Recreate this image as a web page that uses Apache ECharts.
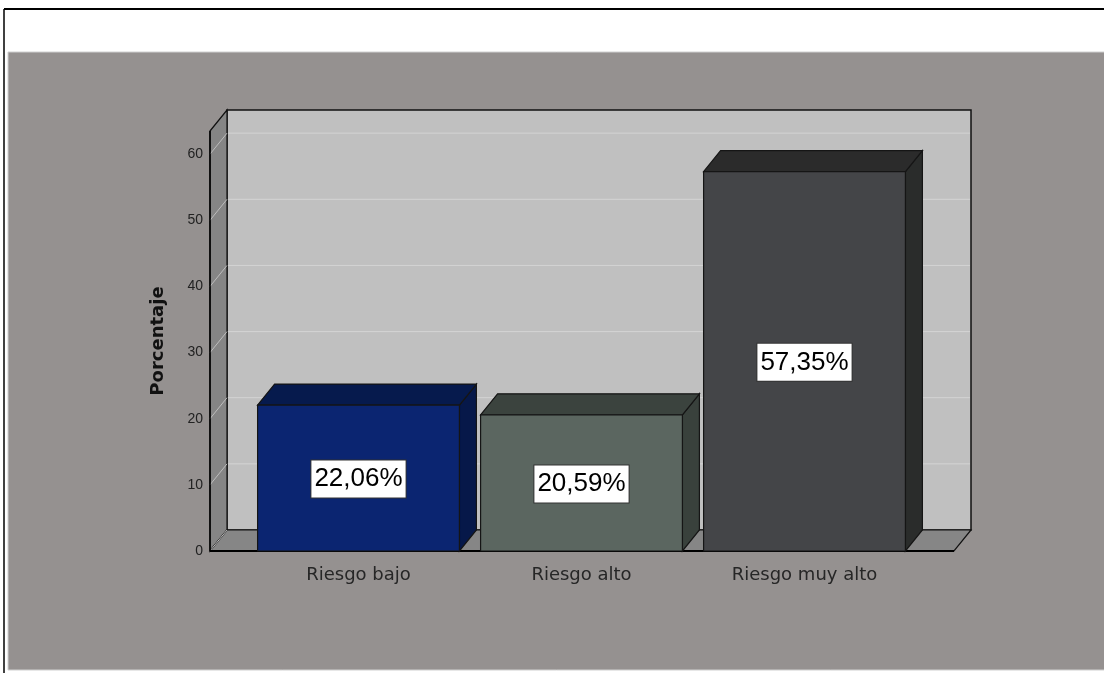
<!DOCTYPE html>
<html>
<head>
<meta charset="utf-8">
<script src="https://cdn.jsdelivr.net/npm/echarts@6/dist/echarts.min.js"></script>
<style>
html,body{margin:0;padding:0;background:#fff;}
#chart{width:1104px;height:673px;}
</style>
</head>
<body>
<div id="chart"></div>
<script>
// ---- data ----
const categories = ['Riesgo bajo', 'Riesgo alto', 'Riesgo muy alto'];
const percentages = [22.06, 20.59, 57.35];
const valueLabels = ['22,06%', '20,59%', '57,35%'];
const yTicks = [0, 10, 20, 30, 40, 50, 60];
const yAxisMax = 63.5;

// ---- styling ----
const DX = 17, DY = -21;          // 3D depth offset (px)
const PAD_L = 37, PAD_R = 38;      // floor extension beyond category bands (px)
const barColors = [
  { front: '#0b2571', top: '#061a4d', side: '#061849' },
  { front: '#5b6660', top: '#3b433e', side: '#39413c' },
  { front: '#444548', top: '#2b2b2b', side: '#2a2c2b' }
];

const chart = echarts.init(document.getElementById('chart'), null, { renderer: 'canvas' });

function renderWalls(params, api) {
  const cs = params.coordSys;
  const x0 = cs.x - PAD_L, x1 = cs.x + cs.width + PAD_R;
  const yb = api.coord([0, 0])[1];
  const yt = api.coord([0, yAxisMax])[1];
  const children = [];
  children.push({ type: 'rect', shape: { x: x0 + DX, y: yt + DY, width: x1 - x0, height: yb - yt },
    style: { fill: '#c0c0c0', stroke: '#111', lineWidth: 1.5 } });
  children.push({ type: 'polygon', shape: { points: [[x0, yt], [x0 + DX, yt + DY], [x0 + DX, yb + DY], [x0, yb]] },
    style: { fill: '#858585', stroke: '#111', lineWidth: 1.2 } });
  children.push({ type: 'polygon', shape: { points: [[x0, yb], [x0 + DX, yb + DY], [x1 + DX, yb + DY], [x1, yb]] },
    style: { fill: '#868686', stroke: '#111', lineWidth: 1.2 } });
  yTicks.forEach(function (t) {
    const y = api.coord([0, t])[1];
    if (t > 0) {
      children.push({ type: 'line', shape: { x1: x0 + DX + 1, y1: y + DY, x2: x1 + DX - 1, y2: y + DY },
        style: { stroke: '#d4d4d4', lineWidth: 1 } });
    }
    children.push({ type: 'line', shape: { x1: x0, y1: y, x2: x0 + DX, y2: y + DY },
      style: { stroke: '#bdbdbd', lineWidth: 1 } });
  });
  children.push({ type: 'line', shape: { x1: x0, y1: yt, x2: x0, y2: yb }, style: { stroke: '#000', lineWidth: 1.5 } });
  children.push({ type: 'line', shape: { x1: x0, y1: yb, x2: x1, y2: yb }, style: { stroke: '#000', lineWidth: 2 } });
  return { type: 'group', children: children };
}

function renderBar(params, api) {
  const c = api.value(0), v = api.value(1);
  const top = api.coord([c, v]);
  const base = api.coord([c, 0]);
  const w = api.size([1, 0])[0] * 0.905;
  const xl = top[0] - w / 2, xr = top[0] + w / 2;
  const yt = top[1], yb = base[1];
  const col = barColors[params.dataIndex];
  const edge = { stroke: '#151515', lineWidth: 1.2 };
  return {
    type: 'group',
    children: [
      { type: 'polygon', shape: { points: [[xr, yt], [xr + DX, yt + DY], [xr + DX, yb + DY], [xr, yb]] },
        style: Object.assign({ fill: col.side }, edge) },
      { type: 'polygon', shape: { points: [[xl, yt], [xl + DX, yt + DY], [xr + DX, yt + DY], [xr, yt]] },
        style: Object.assign({ fill: col.top }, edge) },
      { type: 'rect', shape: { x: xl, y: yt, width: w, height: yb - yt },
        style: Object.assign({ fill: col.front }, edge) },
      { type: 'text', x: top[0], y: (yt + yb) / 2 + 1,
        style: { text: valueLabels[params.dataIndex], fill: '#000',
          font: '26px "Liberation Sans Narrow", "Arial Narrow", "Liberation Sans", sans-serif',
          align: 'center', verticalAlign: 'middle', backgroundColor: '#fff',
          borderColor: '#333', borderWidth: 1, padding: [5, 3, 4, 3], lineHeight: 28 } }
    ]
  };
}

const option = {
  animation: false,
  backgroundColor: '#ffffff',
  graphic: [
    { type: 'rect', shape: { x: 8, y: 52, width: 1100, height: 618 }, style: { fill: '#959190', stroke: '#d0d0d0', lineWidth: 1 }, z: -10 },
    { type: 'line', shape: { x1: 4, y1: 9, x2: 1110, y2: 9 }, style: { stroke: '#000', lineWidth: 2 }, z: -10 },
    { type: 'line', shape: { x1: 4, y1: 9, x2: 4, y2: 680 }, style: { stroke: '#000', lineWidth: 1.5 }, z: -10 }
  ],
  grid: { left: 247, right: 188, top: 131, bottom: 122, containLabel: false },
  xAxis: {
    type: 'category',
    data: categories,
    axisLine: { show: false },
    axisTick: { show: false },
    axisLabel: { margin: 15, color: '#262626', fontSize: 18, fontFamily: '"DejaVu Sans", sans-serif' }
  },
  yAxis: {
    type: 'value',
    min: 0,
    max: yAxisMax,
    interval: 10,
    offset: PAD_L,
    name: 'Porcentaje',
    nameLocation: 'middle',
    nameGap: 43,
    nameTextStyle: { fontSize: 18, fontWeight: 'bold', color: '#111', fontFamily: '"DejaVu Sans", sans-serif' },
    axisLine: { show: false },
    axisTick: { show: false },
    splitLine: { show: false },
    axisLabel: { margin: 7, color: '#222', fontSize: 14, fontFamily: '"Liberation Sans", Arial, sans-serif', showMaxLabel: false }
  },
  series: [
    { type: 'custom', name: 'walls', silent: true, renderItem: renderWalls, data: [[0, 0]], z: 1 },
    { type: 'custom', name: 'Porcentaje', renderItem: renderBar,
      data: percentages.map(function (v, i) { return [i, v]; }), z: 2 }
  ]
};
chart.setOption(option);
</script>
</body>
</html>
